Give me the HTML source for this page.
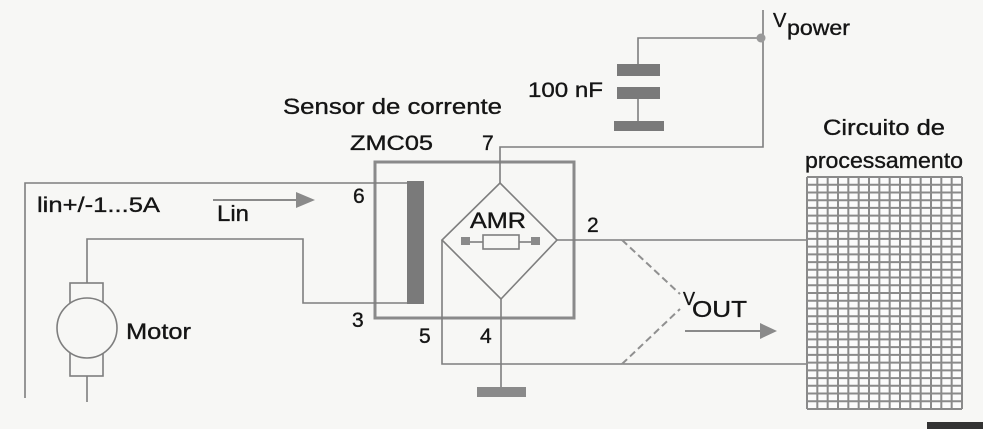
<!DOCTYPE html>
<html><head><meta charset="utf-8"><style>
html,body{margin:0;padding:0;background:#f7f7f5;}
svg{display:block}
text{font-family:"Liberation Sans",Arial,sans-serif;fill:#151515;stroke:#151515;stroke-width:0.35}
</style></head><body>
<svg width="983" height="429" viewBox="0 0 983 429" xmlns="http://www.w3.org/2000/svg">
<rect width="983" height="429" fill="#f7f7f5"/>

<!-- sensor box -->
<rect x="375" y="162" width="199" height="156" fill="none" stroke="#8a8a8a" stroke-width="3"/>

<g fill="none" stroke="#7e7e7e" stroke-width="1.6">
 <polyline points="25,398 25,183 407,183"/>
 <polyline points="87,283 87,239 303,239 303,303 407,303"/>
 <line x1="87" y1="376" x2="87" y2="402"/>
 <polyline points="500,183 500,147 763,147 763,10"/>
 <polyline points="761,38 638,38 638,64"/>
 <line x1="638" y1="99" x2="638" y2="121"/>
 <polygon points="500,183 557,240 501,299 442,240"/>
 <line x1="557" y1="240" x2="807" y2="240"/>
 <polyline points="442,240 442,364 807,364"/>
 <line x1="501" y1="299" x2="501" y2="388"/>
 <line x1="470" y1="242" x2="483" y2="242"/>
 <rect x="483" y="235" width="36" height="14" fill="#f7f7f5"/>
 <line x1="519" y1="242" x2="531" y2="242"/>
 <line x1="213" y1="200" x2="298" y2="200" stroke="#8a8a8a" stroke-width="2"/>
 <line x1="685" y1="331" x2="762" y2="331" stroke="#8a8a8a" stroke-width="2"/>
</g>

<g stroke="#909090" stroke-width="2" stroke-dasharray="7 4" fill="none">
 <line x1="622" y1="240" x2="680" y2="294"/>
 <line x1="622" y1="364" x2="680" y2="309"/>
</g>

<polygon points="296,192 315,200 296,208" fill="#8a8a8a"/>
<polygon points="760,323 777,331 760,339" fill="#8a8a8a"/>

<rect x="461" y="237" width="9" height="8" fill="#8a8a8a"/>
<rect x="531" y="237" width="9" height="8" fill="#8a8a8a"/>

<rect x="407" y="181" width="17" height="123" fill="#7a7a7a"/>

<rect x="617" y="64" width="43" height="12" fill="#7a7a7a"/>
<rect x="617" y="87" width="43" height="12" fill="#7a7a7a"/>
<rect x="614" y="121" width="50" height="10" fill="#7a7a7a"/>

<circle cx="761" cy="38" r="4.5" fill="#999"/>

<rect x="477" y="387" width="49" height="10" fill="#8a8a8a"/>

<g fill="#f7f7f5" stroke="#7e7e7e" stroke-width="1.6">
 <rect x="70" y="283" width="33" height="25"/>
 <rect x="70" y="350" width="33" height="26"/>
 <circle cx="87" cy="328" r="30"/>
</g>

<rect x="807" y="177" width="155" height="232" fill="#fbfbfb"/>
<path fill="none" stroke="#8a8a8a" stroke-width="2" d="
M807 177V409M817.33 177V409M827.67 177V409M838 177V409M848.33 177V409M858.67 177V409M869 177V409M879.33 177V409M889.67 177V409M900 177V409M910.33 177V409M920.67 177V409M931 177V409M941.33 177V409M951.67 177V409M962 177V409
M807 177H962M807 184.73H962M807 192.47H962M807 200.2H962M807 207.93H962M807 215.67H962M807 223.4H962M807 231.13H962M807 238.87H962M807 246.6H962M807 254.33H962M807 262.07H962M807 269.8H962M807 277.53H962M807 285.27H962M807 293H962M807 300.73H962M807 308.47H962M807 316.2H962M807 323.93H962M807 331.67H962M807 339.4H962M807 347.13H962M807 354.87H962M807 362.6H962M807 370.33H962M807 378.07H962M807 385.8H962M807 393.53H962M807 401.27H962M807 409H962"/>

<rect x="927" y="422" width="56" height="7" fill="#333"/>

<text x="283" y="114" font-size="22" textLength="219" lengthAdjust="spacingAndGlyphs">Sensor de corrente</text>
<text x="350" y="150" font-size="21" textLength="83" lengthAdjust="spacingAndGlyphs">ZMC05</text>
<text x="482" y="150" font-size="21">7</text>
<text x="37" y="212" font-size="21" textLength="123" lengthAdjust="spacingAndGlyphs">lin+/-1...5A</text>
<text x="217" y="221" font-size="22" textLength="32" lengthAdjust="spacingAndGlyphs">Lin</text>
<text x="353" y="203" font-size="21">6</text>
<text x="352" y="327" font-size="21">3</text>
<text x="419" y="343" font-size="21">5</text>
<text x="480" y="343" font-size="21">4</text>
<text x="587" y="232" font-size="21">2</text>
<text x="470" y="228" font-size="22" textLength="56" lengthAdjust="spacingAndGlyphs">AMR</text>
<text x="528" y="97" font-size="21" textLength="75" lengthAdjust="spacingAndGlyphs">100 nF</text>
<text x="126" y="339" font-size="22" textLength="65" lengthAdjust="spacingAndGlyphs">Motor</text>
<text x="823" y="135" font-size="22" textLength="122" lengthAdjust="spacingAndGlyphs">Circuito de</text>
<text x="805" y="168" font-size="22" textLength="158" lengthAdjust="spacingAndGlyphs">processamento</text>
<text x="773" y="27" font-size="20">V</text>
<text x="787" y="35" font-size="21" textLength="63" lengthAdjust="spacingAndGlyphs">power</text>
<text x="683" y="305" font-size="18">V</text>
<text x="692" y="317" font-size="23" textLength="55" lengthAdjust="spacingAndGlyphs">OUT</text>
</svg>
</body></html>
